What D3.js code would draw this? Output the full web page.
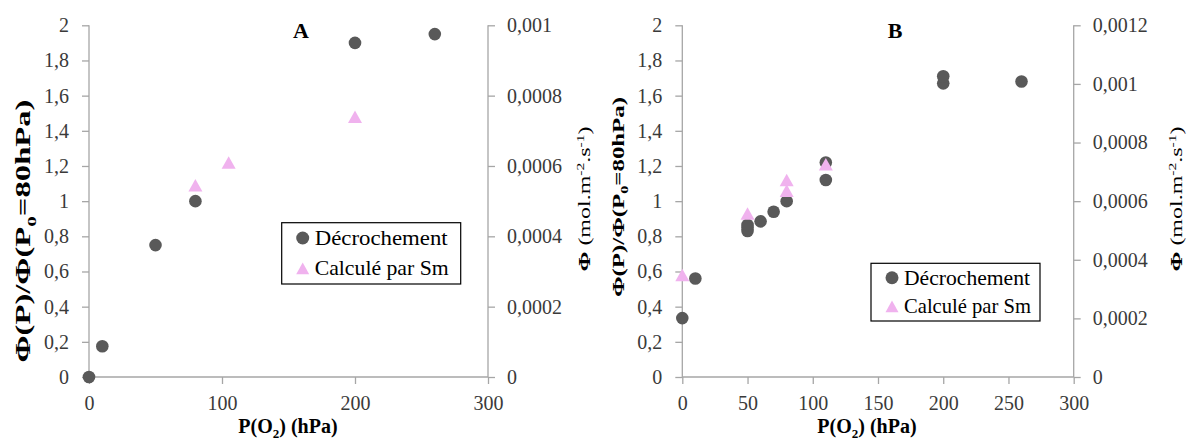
<!DOCTYPE html>
<html><head><meta charset="utf-8">
<script src="https://cdn.jsdelivr.net/npm/d3@7"></script>
<style>
html,body{margin:0;padding:0;background:#fff;}
svg{display:block;}
svg text{font-family:"Liberation Serif",serif;}
</style></head>
<body>
<svg id="c" width="1187" height="446"></svg>
<script>
// ---- data ----
const xTicksA = [0, 100, 200, 300];
const xTicksB = [0, 50, 100, 150, 200, 250, 300];
const yTicksLeft = [0, 0.2, 0.4, 0.6, 0.8, 1, 1.2, 1.4, 1.6, 1.8, 2];
const yLabelsLeft = ["0", "0,2", "0,4", "0,6", "0,8", "1", "1,2", "1,4", "1,6", "1,8", "2"];
const yTicksRightA = [0, 0.0002, 0.0004, 0.0006, 0.0008, 0.001];
const yLabelsRightA = ["0", "0,0002", "0,0004", "0,0006", "0,0008", "0,001"];
const yTicksRightB = [0, 0.0002, 0.0004, 0.0006, 0.0008, 0.001, 0.0012];
const yLabelsRightB = ["0", "0,0002", "0,0004", "0,0006", "0,0008", "0,001", "0,0012"];

const seriesNames = ["Décrochement", "Calculé par Sm"];

const decroA_x = [0, 10, 50, 80, 200, 260];
const decroA_y = [0, 0.175, 0.75, 1.0, 1.9, 1.95];
const calcA_x = [80, 105, 200];
const calcA_y = [1.09, 1.22, 1.48];

const decroB_x = [0, 10, 50, 50, 50, 60, 70, 80, 110, 110, 200, 200, 260];
const decroB_y = [0.335, 0.56, 0.83, 0.85, 0.865, 0.885, 0.94, 1.0, 1.12, 1.22, 1.67, 1.71, 1.68];
const calcB_x = [0, 50, 80, 80, 110];
const calcB_y = [0.58, 0.93, 1.06, 1.12, 1.21];

// ---- style ----
const FONT = '"Liberation Serif", serif';
const axisColor = "#a6a6a6";
const tickTextColor = "#3a3a3a";
const circleColor = "#595959";
const triColor = "#f0b2ee";

const svg = d3.select("#c").attr("font-family", FONT);

function triPath(s) {
  const w = s, h = s * 0.9;
  return `M0,${-h/2}L${w/2},${h/2}L${-w/2},${h/2}Z`;
}

function drawPanel(cfg) {
  const g = svg.append("g");
  const x = d3.scaleLinear().domain([0, 300]).range([cfg.x0, cfg.x1]);
  const yL = d3.scaleLinear().domain([0, 2]).range([377, 25.3]);
  const yR = d3.scaleLinear().domain([0, cfg.rightMax]).range([377, 25.3]);

  const xa = g.append("g").attr("transform", "translate(0,377)")
    .call(d3.axisBottom(x).tickValues(cfg.xTicks).tickSize(7).tickPadding(12).tickFormat(d3.format("d")));
  const la = g.append("g").attr("transform", `translate(${cfg.x0},0)`)
    .call(d3.axisLeft(yL).tickValues(yTicksLeft).tickSize(7).tickPadding(13)
      .tickFormat((d, i) => yLabelsLeft[i]));
  const ra = g.append("g").attr("transform", `translate(${cfg.x1},0)`)
    .call(d3.axisRight(yR).tickValues(cfg.rightTicks).tickSize(7).tickPadding(12)
      .tickFormat((d, i) => cfg.rightLabels[i]));
  [xa, la, ra].forEach(a => {
    a.attr("font-family", FONT).attr("font-size", 20);
    a.selectAll("path.domain").attr("stroke", axisColor).attr("stroke-width", 1.3);
    a.selectAll(".tick line").attr("stroke", axisColor).attr("stroke-width", 1.3);
    a.selectAll(".tick text").attr("fill", tickTextColor).attr("font-family", FONT).attr("font-size", 20);
  });
  la.select("path.domain").attr("d", `M0,377V25.3`);
  ra.select("path.domain").attr("d", `M0,377V25.3`);
  xa.select("path.domain").attr("d", `M${cfg.x0},0H${cfg.x1}`);
  xa.selectAll(".tick text").attr("dy", "0.71em");

  g.append("g").selectAll("circle").data(cfg.cx.map((d, i) => [d, cfg.cy[i]]))
    .join("circle").attr("cx", d => x(d[0])).attr("cy", d => yL(d[1])).attr("r", 6.3)
    .attr("fill", circleColor);
  g.append("g").selectAll("path").data(cfg.tx.map((d, i) => [d, cfg.ty[i]]))
    .join("path").attr("d", triPath(14))
    .attr("transform", d => `translate(${x(d[0])},${yL(d[1])})`)
    .attr("fill", triColor);

  g.append("text").attr("x", cfg.letterX).attr("y", 38).attr("text-anchor", "middle")
    .attr("font-family", FONT).attr("font-size", 22).attr("font-weight", "bold").text(cfg.letter);

  const xl = g.append("text").attr("x", cfg.xLabelX).attr("y", 433).attr("text-anchor", "middle")
    .attr("font-family", FONT).attr("font-size", 20).attr("font-weight", "bold");
  xl.append("tspan").text("P(O");
  xl.append("tspan").attr("dy", 5).attr("font-size", 13).text("2");
  xl.append("tspan").attr("dy", -5).text(") (hPa)");

  const lg = g.append("g");
  lg.append("rect").attr("x", cfg.leg[0]).attr("y", cfg.leg[1]).attr("width", cfg.leg[2]).attr("height", cfg.leg[3])
    .attr("fill", "#fff").attr("stroke", "#000").attr("stroke-width", 1.2);
  const mx = cfg.leg[0] + 21, tx0 = cfg.leg[0] + 33;
  const r1 = cfg.leg[1] + cfg.leg[3] * 0.25, r2 = cfg.leg[1] + cfg.leg[3] * 0.745;
  lg.append("circle").attr("cx", mx).attr("cy", r1).attr("r", 6.5).attr("fill", circleColor);
  lg.append("path").attr("d", triPath(13)).attr("transform", `translate(${mx},${r2})`).attr("fill", triColor);
  lg.append("text").attr("x", tx0).attr("y", r1 + 7).attr("font-family", FONT).attr("font-size", 21)
    .attr("textLength", cfg.legW[0]).attr("lengthAdjust", "spacingAndGlyphs").text(seriesNames[0]);
  lg.append("text").attr("x", tx0).attr("y", r2 + 7).attr("font-family", FONT).attr("font-size", 21)
    .attr("textLength", cfg.legW[1]).attr("lengthAdjust", "spacingAndGlyphs").text(seriesNames[1]);
  return g;
}

function phiRatio(sel, x, y, len, size) {
  const t = sel.append("text").attr("transform", `translate(${x},${y}) rotate(-90)`)
    .attr("text-anchor", "middle").attr("font-family", FONT).attr("font-size", size).attr("font-weight", "bold")
    .attr("textLength", len).attr("lengthAdjust", "spacingAndGlyphs");
  t.append("tspan").text("Φ(P)/Φ(P");
  t.append("tspan").attr("dy", size * 0.28).attr("font-size", size * 0.65).text("0");
  t.append("tspan").attr("dy", -size * 0.28).text("=80hPa)");
}
function phiUnit(sel, x, y, len, size) {
  const t = sel.append("text").attr("transform", `translate(${x},${y}) rotate(-90)`)
    .attr("text-anchor", "middle").attr("font-family", FONT).attr("font-size", size).attr("font-weight", "bold")
    .attr("textLength", len).attr("lengthAdjust", "spacingAndGlyphs");
  t.append("tspan").text("Φ ");
  t.append("tspan").attr("font-weight", "normal").text("(mol.m");
  t.append("tspan").attr("dy", -size * 0.38).attr("font-size", size * 0.65).attr("font-weight", "normal").text("-2");
  t.append("tspan").attr("dy", size * 0.38).attr("font-weight", "normal").text(".s");
  t.append("tspan").attr("dy", -size * 0.38).attr("font-size", size * 0.65).attr("font-weight", "normal").text("-1");
  t.append("tspan").attr("dy", size * 0.38).attr("font-weight", "normal").text(")");
}

drawPanel({
  x0: 89, x1: 488, xTicks: xTicksA, rightMax: 0.001, rightTicks: yTicksRightA, rightLabels: yLabelsRightA,
  cx: decroA_x, cy: decroA_y, tx: calcA_x, ty: calcA_y,
  letter: "A", letterX: 301, xLabelX: 288,
  leg: [281.7, 222.7, 179, 61.3], legW: [133, 134]
});
drawPanel({
  x0: 682.3, x1: 1073.7, xTicks: xTicksB, rightMax: 0.0012, rightTicks: yTicksRightB, rightLabels: yLabelsRightB,
  cx: decroB_x, cy: decroB_y, tx: calcB_x, ty: calcB_y,
  letter: "B", letterX: 895, xLabelX: 867,
  leg: [871, 263.3, 169, 57.7], legW: [126, 127]
});

phiRatio(svg, 30, 231, 263, 20);
phiUnit(svg, 590, 199, 145, 16);
phiRatio(svg, 624, 197, 200, 16);
phiUnit(svg, 1182, 199, 145, 16);
</script>
</body></html>
